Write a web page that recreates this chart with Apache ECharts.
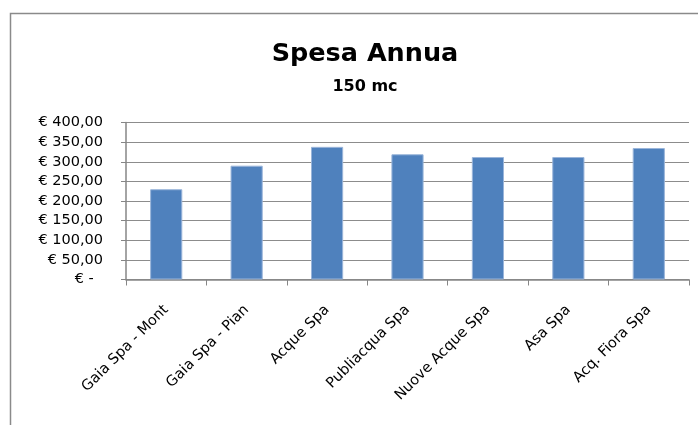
<!DOCTYPE html>
<html><head><meta charset="utf-8">
<script src="https://cdn.jsdelivr.net/npm/echarts@6/dist/echarts.min.js"></script>
<style>html,body{margin:0;padding:0;background:#fff}#c{width:698px;height:425px}</style>
</head><body><div id="c"></div>
<script>
const categories = ['Gaia Spa - Mont','Gaia Spa - Pian','Acque Spa','Publiacqua Spa','Nuove Acque Spa','Asa Spa','Acq. Fiora Spa'];
const values = [230, 290, 338, 319, 312, 312, 335];
const yTicks = [0, 50, 100, 150, 200, 250, 300, 350, 400];
const titleText = 'Spesa Annua';
const subtitleText = '150 mc';

function fmt(v){
  if (v === 0) return '€ -  ';
  return '€ ' + v.toFixed(2).replace('.', ',');
}
const FONT = 'DejaVu Sans';
const chart = echarts.init(document.getElementById('c'));
chart.setOption({
  animation: false,
  graphic: [{type:'rect', shape:{x:10.5, y:13.5, width:800, height:600}, style:{fill:'none', stroke:'#8a8a8a', lineWidth:1.5}, silent:true}],
  title: {
    text: titleText, subtext: subtitleText, left: 360, textAlign: 'center', top: 36, itemGap: 12,
    textStyle:{fontFamily:FONT, fontWeight:'bold', fontSize:25.5, color:'#000'},
    subtextStyle:{fontFamily:FONT, fontWeight:'bold', fontSize:16, color:'#000'}
  },
  grid: {left:126, right:9, top:122.5, bottom:145.5, containLabel:false},
  xAxis: {
    type:'category', data: categories,
    axisLine:{lineStyle:{color:'#868686', width:1.5}},
    axisTick:{show:true, length:6, lineStyle:{color:'#868686'}},
    axisLabel:{rotate:45, fontFamily:FONT, fontSize:14.5, color:'#000', margin:28, interval:0}
  },
  yAxis: {
    type:'value', min: yTicks[0], max: yTicks[yTicks.length-1], interval: 50,
    axisLine:{show:true, lineStyle:{color:'#868686', width:1.5}},
    axisTick:{show:true, length:5, lineStyle:{color:'#868686'}},
    splitLine:{lineStyle:{color:'#8c8c8c', width:1.2}},
    axisLabel:{fontFamily:FONT, fontSize:14.5, color:'#000', margin:23, formatter: fmt}
  },
  series: [{
    type:'bar', data: values, barWidth:'40%',
    itemStyle:{color:'#4f81bd', borderColor:'#9ab5da', borderWidth:1}
  }]
});
</script></body></html>
